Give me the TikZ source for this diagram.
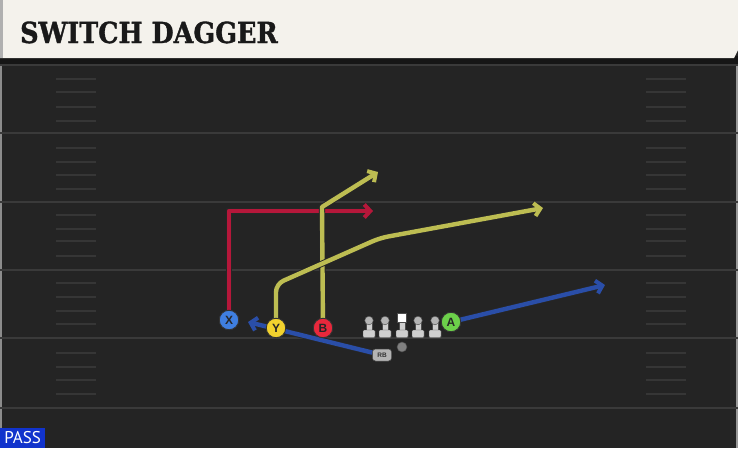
\documentclass[tikz,border=0pt]{standalone}
\usepackage{fontspec}
\setmainfont{Liberation Sans}
\newfontfamily\titlefont[FakeStretch=0.88,FakeBold=1.2]{DejaVu Serif}
\newfontfamily\labfont{Liberation Sans}
\newfontfamily\passfont{PT Sans}
\usetikzlibrary{arrows.meta}
\definecolor{fieldBg}{HTML}{242424}
\definecolor{lineGray}{HTML}{3A3A3A}
\definecolor{hashGray}{HTML}{363636}
\definecolor{headerBg}{HTML}{F4F2EC}
\definecolor{headerEdge}{HTML}{B0B0B0}
\definecolor{bandDark}{HTML}{161616}
\definecolor{redR}{HTML}{B5173A}
\definecolor{yelR}{HTML}{BDBD52}
\definecolor{blueR}{HTML}{2A4EA8}
\definecolor{xCol}{HTML}{3F7FE0}
\definecolor{yCol}{HTML}{F2D22E}
\definecolor{bCol}{HTML}{E8283C}
\definecolor{aCol}{HTML}{6CD04A}
\definecolor{manGray}{HTML}{CFCFCF}
\definecolor{headGray}{HTML}{B4B4B4}
\definecolor{passBlue}{HTML}{1133CC}
\pgfdeclarelayer{field}
\pgfdeclarelayer{routes}
\pgfsetlayers{field,routes,main}
\tikzset{
  yardline/.style={draw=lineGray, line width=2pt},
  hashmark/.style={draw=hashGray, line width=1.6pt},
  route/.style={line width=4.4pt, line join=round,
    -{Straight Barb[length=6pt,width=13pt,line width=4pt]},
    preaction={draw=black!85, line width=6.2pt,
      -{Straight Barb[length=6pt,width=13pt,line width=5.8pt]}}},
  player/.style={circle, minimum size=19.5pt, inner sep=0pt, draw=black!80,
    line width=0.9pt, font=\labfont\bfseries\fontsize{12}{12}\selectfont, text=black!85},
  lineman/.pic={
    \fill[manGray, draw=black!70, line width=0.4pt] (-3,-5) rectangle (3,5);
    \fill[manGray, draw=black!70, line width=0.4pt, rounded corners=1pt] (-6,4) rectangle (6,11.5);
    \fill[headGray, draw=black!70, line width=0.4pt] (0,-5.5) circle (4.3);
  },
  centerman/.pic={
    \fill[manGray, draw=black!70, line width=0.4pt] (-3,-5) rectangle (3,5);
    \fill[manGray, draw=black!70, line width=0.4pt, rounded corners=1pt] (-6,4) rectangle (6,11.5);
    \fill[white, draw=black!70, line width=0.4pt] (-4.5,-13) rectangle (4.5,-4);
  }
}
\begin{document}
\begin{tikzpicture}[x=1pt,y=-1pt]
\useasboundingbox (0,0) rectangle (738,448);
\begin{pgfonlayer}{field}
  \fill[fieldBg] (0,0) rectangle (738,448);
  \fill[bandDark] (0,56) rectangle (738,64);
  \fill[headerBg] (0,0) -- (738,0) -- (738,50) -- (734,58) -- (0,58) -- cycle;
  \fill[headerEdge] (0,0) rectangle (3,58);
  \fill[black!45] (0,64) rectangle (2,448);
  \fill[black!40] (736,64) rectangle (738,448);
  \foreach \yy in {65,133,202,270,338,408}
    \draw[yardline] (0,\yy) -- (738,\yy);
  \foreach \yy in {79,92,107,121,148,162,175,189,215,229,241,256,283,297,311,324,353,367,380,394}{
    \draw[hashmark] (56,\yy) -- (96,\yy);
    \draw[hashmark] (646,\yy) -- (686,\yy);
  }
\end{pgfonlayer}
\node[anchor=base west, inner sep=0pt, font=\titlefont\bfseries\fontsize{29}{29}\selectfont, text=black!90] (title) at (20,43) {SWITCH DAGGER};
\node[fill=passBlue, text=white, anchor=south west, minimum width=45pt, minimum height=20pt, inner sep=0pt, font=\passfont\fontsize{17}{17}\selectfont] (pass) at (0,448) {PASS};
% players
\node[player, fill=xCol] (X) at (229,320) {X};
\node[player, fill=yCol] (Y) at (276,328) {Y};
\node[player, fill=bCol] (B) at (323,328) {B};
\node[player, fill=aCol] (A) at (451,322) {A};
\node[circle, fill=black!50, draw=black!70, line width=0.5pt, minimum size=10pt, inner sep=0pt] (qb) at (402,347) {};
\node[fill=headGray, draw=black!70, line width=0.5pt, rounded corners=3pt, minimum width=19pt, minimum height=12pt, inner sep=0pt, font=\labfont\bfseries\fontsize{6.5}{6.5}\selectfont, text=black!80] (RB) at (382,355) {RB};
\pic at (369,326) {lineman};
\pic at (385,326) {lineman};
\pic at (402,326) {centerman};
\pic at (418,326) {lineman};
\pic at (435,326) {lineman};
% route end points
\coordinate (xend) at (373,211);
\coordinate (bturn) at (322,207);
\coordinate (bend) at (378,172);
\coordinate (y1) at (276,284);
\coordinate (y2) at (380,238);
\coordinate (yend) at (543,208);
\coordinate (aend) at (605,285);
\coordinate (rbend) at (248,322);
\begin{pgfonlayer}{routes}
  \draw[route, draw=redR] (X.center) |- (xend);
  \draw[route, draw=yelR] (B.center) -- (bturn) -- (bend);
  \draw[route, draw=yelR, rounded corners=8pt] (Y.center) -- (y1) -- (y2) -- (yend);
  \draw[route, draw=blueR] (A.center) -- (aend);
  \draw[route, draw=blueR] (RB) -- (rbend);
\end{pgfonlayer}
\end{tikzpicture}
\end{document}
